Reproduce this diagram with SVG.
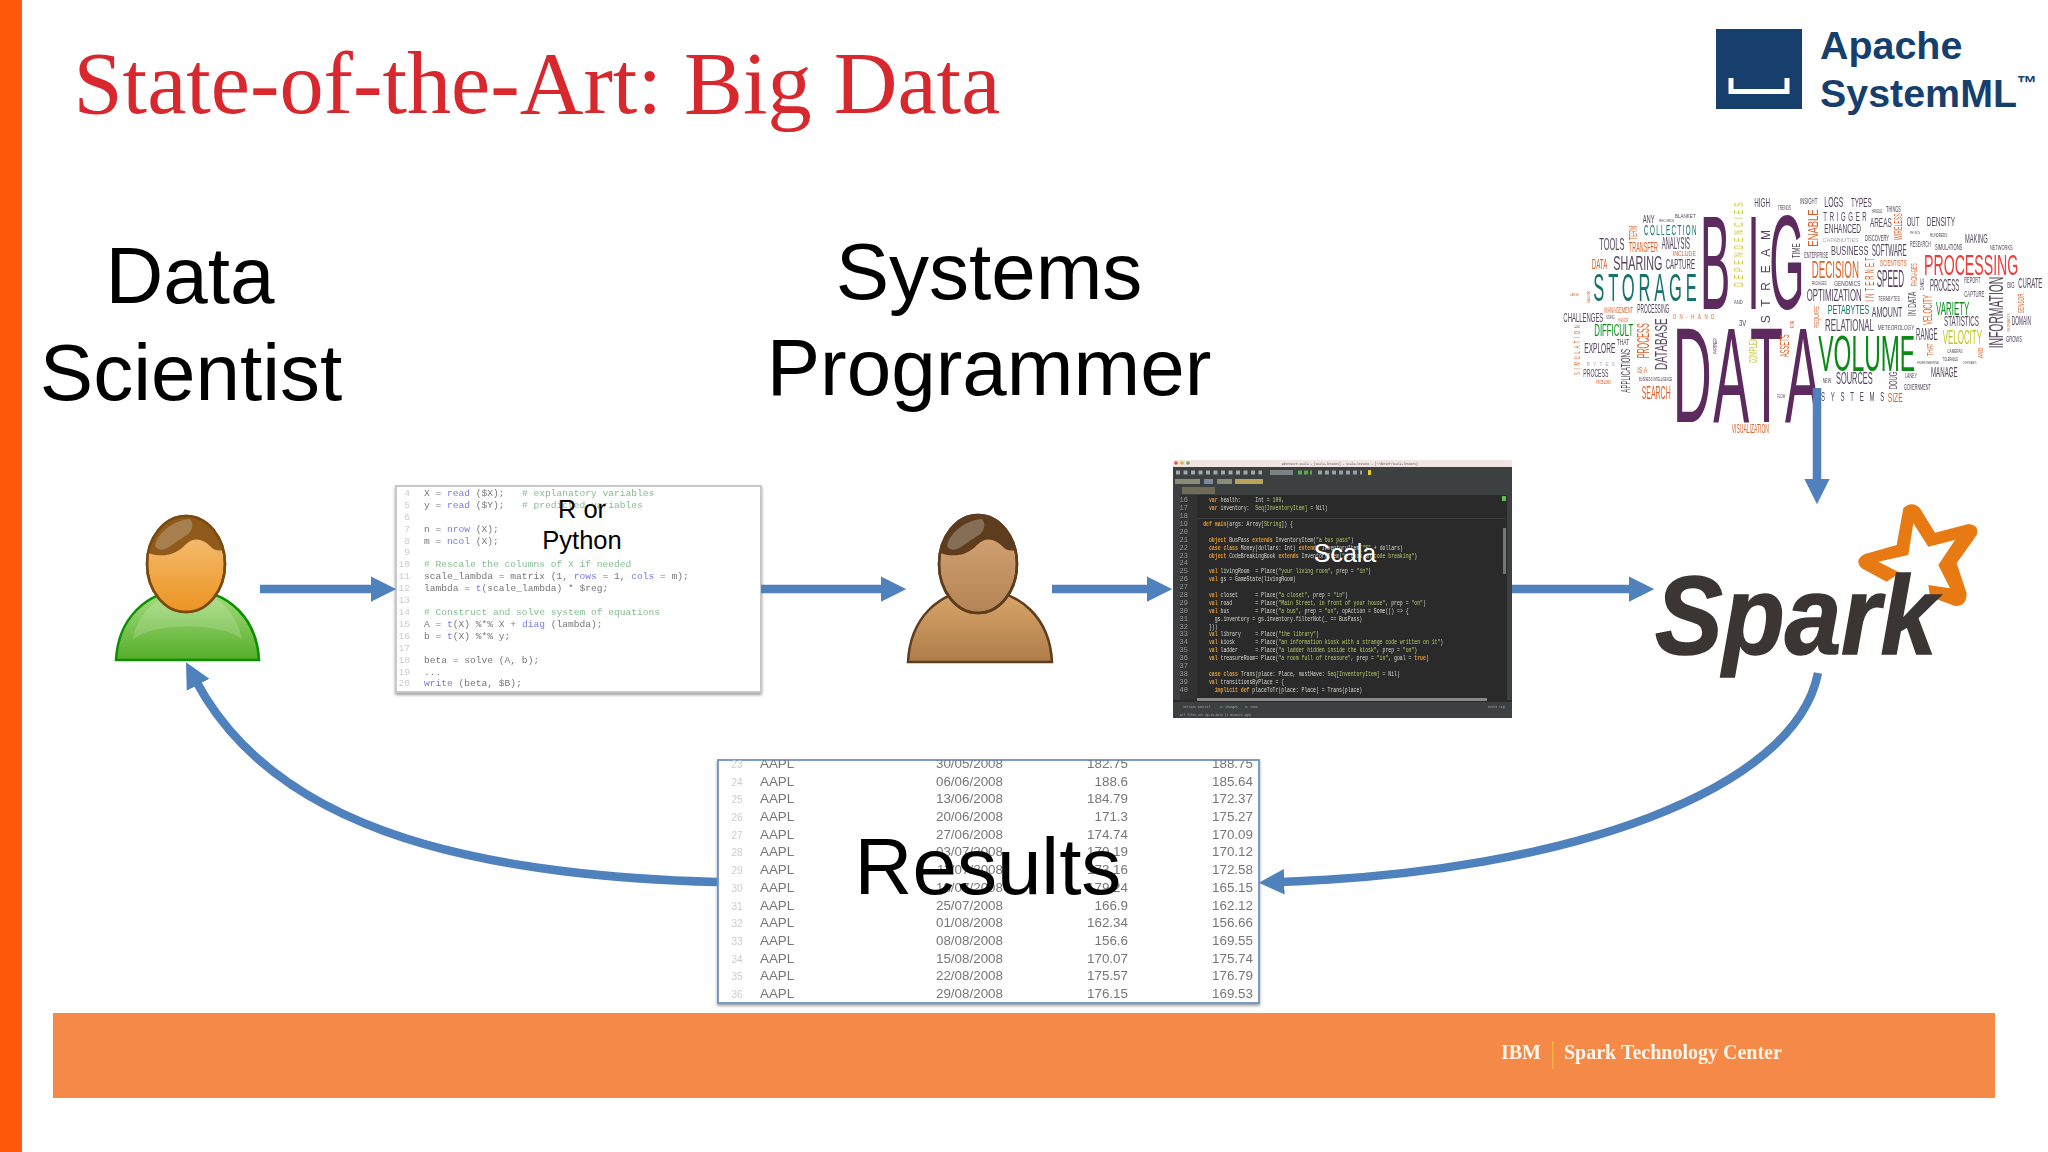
<svg xmlns="http://www.w3.org/2000/svg" width="2048" height="1152" viewBox="0 0 2048 1152">
<style>
text{font-family:"Liberation Sans",Arial,sans-serif}
.big{font-size:80px;text-anchor:middle;fill:#000}
.title{font-family:"Liberation Serif","Times New Roman",serif;font-size:88.300px;fill:#d9272e}
.flow{fill:none;stroke:#4f81bd;stroke-width:8.5;marker-end:url(#arrow)}
.mono,.mono text{font-family:"Liberation Mono","Courier New",monospace}
.code{font-size:9.6px;fill:#777;white-space:pre}
.cn{font-size:9.6px;fill:#ccc;text-anchor:end}
.k{fill:#7b7be8}.c{fill:#86bd92}
.sc{font-size:21px;fill:#d8d8cc;white-space:pre}
.sn{font-size:21px;fill:#999;text-anchor:end}
.o{fill:#e09a34;font-weight:bold}.s{fill:#b4cc68}
.st{font-size:9px;fill:#aaa}
.td{font-size:13.4px;fill:#777}
.r{text-anchor:end}
.ln{font-size:10px;fill:#ccc;text-anchor:middle}
.logo{font-weight:bold;font-size:39.400px;fill:#163f6e}
.foot{font-family:"Liberation Serif","Times New Roman",serif;font-weight:bold;font-size:20px;fill:#fff5ea}
.p{fill:#5b2a5e}.d{fill:#54445c}.t{fill:#14726a}.g{fill:#0a8a18}.re{fill:#ee3b3b}.or{fill:#d8622a}.y{fill:#c4c42a}.li{fill:#b3a6b3}
</style>
<defs>
<marker id="arrow" viewBox="0 0 3 3" refX="0.5" refY="1.5" markerWidth="3" markerHeight="3" orient="auto" markerUnits="strokeWidth"><path d="M0 0L3 1.5L0 3Z" fill="#4f81bd"/></marker>
<filter id="soft" x="-2%" y="-2%" width="104%" height="104%"><feGaussianBlur stdDeviation="0.45"/></filter>
<filter id="shadow" x="-5%" y="-5%" width="110%" height="110%"><feDropShadow dx="0" dy="2" stdDeviation="1.5" flood-color="#777" flood-opacity=".7"/></filter>
<linearGradient id="green" x1="0" y1="0" x2="0" y2="1"><stop offset="0" stop-color="#a9de80"/><stop offset="1" stop-color="#55ad2a"/></linearGradient>
<linearGradient id="tan" x1="0" y1="0" x2="0" y2="1"><stop offset="0" stop-color="#dba76c"/><stop offset="1" stop-color="#ad7c48"/></linearGradient>
<linearGradient id="skin" x1="0" y1="0" x2="0" y2="1"><stop offset="0" stop-color="#f6c585"/><stop offset="1" stop-color="#ec9420"/></linearGradient>
<linearGradient id="skin2" x1="0" y1="0" x2="0" y2="1"><stop offset="0" stop-color="#d8a878"/><stop offset="1" stop-color="#b58455"/></linearGradient>
<clipPath id="tclip"><rect x="718" y="760" width="541" height="243"/></clipPath>
<clipPath id="hclip"><ellipse cx="186" cy="564" rx="39" ry="48"/></clipPath>
<clipPath id="scclip"><rect x="1173" y="460" width="339" height="258"/></clipPath>
</defs>
<rect width="2048" height="1152" fill="#fff"/>
<rect id="side-band" x="0" y="0" width="22" height="1152" fill="#ff5a0a"/>
<text id="title" class="title" x="73.500" y="113">State-of-the-Art: Big Data</text>

<g id="apache-systemml-logo">
<rect x="1716" y="29" width="86" height="80" fill="#163f6e"/>
<path d="M1731 78v13.500h56V78" fill="none" stroke="#fff" stroke-width="5"/>
<text class="logo" x="1820" y="59">Apache</text>
<text class="logo" x="1820" y="107">SystemML</text>
<text class="logo" x="2017" y="90" style="font-size:20px">™</text>
</g>

<g id="data-scientist-label"><text class="big" x="190" y="303">Data</text><text class="big" x="191" y="400">Scientist</text></g>
<g id="systems-programmer-label"><text class="big" x="989" y="299">Systems</text><text class="big" x="989" y="395">Programmer</text></g>

<g id="big-data-cloud" transform="translate(1550,180) scale(.33333)" filter="url(#soft)">
<text class="p" transform="translate(0,388) scale(.34,1)" x="1324 1741 1935" y="0" font-size="400">BIG</text>
<text class="p" transform="translate(0,725) scale(.4,1)" x="920 1225 1500 1762" y="0" font-size="405">DATA</text>
<text class="g" x="805" y="572" font-size="150" textLength="290" lengthAdjust="spacingAndGlyphs">VOLUME</text>
<text class="t" transform="translate(130,362) scale(.42,1)" font-size="118" textLength="738">STORAGE</text>
<text class="re" x="1122" y="285" font-size="90" textLength="283" lengthAdjust="spacingAndGlyphs">PROCESSING</text>
<text class="or" x="785" y="295" font-size="72" textLength="142" lengthAdjust="spacingAndGlyphs">DECISION</text>
<text class="d" x="613" y="80" font-size="39" textLength="47" lengthAdjust="spacingAndGlyphs">HIGH</text>
<text class="d" x="683" y="90" font-size="20" textLength="40" lengthAdjust="spacingAndGlyphs">TRENDS</text>
<text class="d" x="750" y="72" font-size="28" textLength="52" lengthAdjust="spacingAndGlyphs">INSIGHT</text>
<text class="d" x="823" y="82" font-size="42" textLength="57" lengthAdjust="spacingAndGlyphs">LOGS</text>
<text class="d" x="903" y="80" font-size="38" textLength="62" lengthAdjust="spacingAndGlyphs">TYPES</text>
<text class="d" x="965" y="98" font-size="14" textLength="32" lengthAdjust="spacingAndGlyphs">HANDLE</text>
<text class="d" x="1008" y="95" font-size="26" textLength="45" lengthAdjust="spacingAndGlyphs">THINGS</text>
<text class="d" transform="translate(820,122) scale(.5,1)" font-size="36" textLength="260">TRIGGER</text>
<text class="d" x="823" y="160" font-size="36" textLength="110" lengthAdjust="spacingAndGlyphs">ENHANCED</text>
<text class="li" x="818" y="187" font-size="18" textLength="108" lengthAdjust="spacingAndGlyphs">CAPABILITIES</text>
<text class="d" x="960" y="142" font-size="38" textLength="65" lengthAdjust="spacingAndGlyphs">AREAS</text>
<text class="d" x="1070" y="137" font-size="38" textLength="38" lengthAdjust="spacingAndGlyphs">OUT</text>
<text class="d" x="1130" y="137" font-size="38" textLength="85" lengthAdjust="spacingAndGlyphs">DENSITY</text>
<text class="d" x="1080" y="163" font-size="12" textLength="30" lengthAdjust="spacingAndGlyphs">PHYSICS</text>
<text class="d" x="1140" y="170" font-size="18" textLength="52" lengthAdjust="spacingAndGlyphs">HUNDREDS</text>
<text class="d" x="945" y="183" font-size="28" textLength="72" lengthAdjust="spacingAndGlyphs">DISCOVERY</text>
<text class="d" x="1080" y="200" font-size="26" textLength="62" lengthAdjust="spacingAndGlyphs">RESEARCH</text>
<text class="d" x="1155" y="210" font-size="28" textLength="82" lengthAdjust="spacingAndGlyphs">SIMULATIONS</text>
<text class="d" x="1245" y="190" font-size="38" textLength="68" lengthAdjust="spacingAndGlyphs">MAKING</text>
<text class="d" x="1320" y="210" font-size="24" textLength="68" lengthAdjust="spacingAndGlyphs">NETWORKS</text>
<text class="d" x="843" y="225" font-size="40" textLength="112" lengthAdjust="spacingAndGlyphs">BUSINESS</text>
<text class="d" x="965" y="228" font-size="48" textLength="105" lengthAdjust="spacingAndGlyphs">SOFTWARE</text>
<text class="d" x="763" y="235" font-size="26" textLength="72" lengthAdjust="spacingAndGlyphs">ENTERPRISE</text>
<text class="or" x="990" y="258" font-size="28" textLength="80" lengthAdjust="spacingAndGlyphs">SCIENTISTS</text>
<text class="d" x="785" y="315" font-size="14" textLength="45" lengthAdjust="spacingAndGlyphs">PACKAGES</text>
<text class="d" x="853" y="318" font-size="22" textLength="78" lengthAdjust="spacingAndGlyphs">GENOMICS</text>
<text class="d" x="980" y="320" font-size="70" textLength="82" lengthAdjust="spacingAndGlyphs">SPEED</text>
<text class="d" x="1140" y="333" font-size="48" textLength="88" lengthAdjust="spacingAndGlyphs">PROCESS</text>
<text class="d" x="1243" y="310" font-size="26" textLength="48" lengthAdjust="spacingAndGlyphs">REPORT</text>
<text class="d" x="1372" y="325" font-size="28" textLength="22" lengthAdjust="spacingAndGlyphs">BIG</text>
<text class="d" x="1405" y="325" font-size="42" textLength="72" lengthAdjust="spacingAndGlyphs">CURATE</text>
<text class="d" x="770" y="362" font-size="50" textLength="165" lengthAdjust="spacingAndGlyphs">OPTIMIZATION</text>
<text class="d" x="985" y="362" font-size="24" textLength="65" lengthAdjust="spacingAndGlyphs">TERABYTES</text>
<text class="d" x="1243" y="350" font-size="28" textLength="60" lengthAdjust="spacingAndGlyphs">CAPTURE</text>
<text class="t" x="833" y="403" font-size="38" textLength="125" lengthAdjust="spacingAndGlyphs">PETABYTES</text>
<text class="d" x="965" y="410" font-size="42" textLength="92" lengthAdjust="spacingAndGlyphs">AMOUNT</text>
<text class="g" x="1158" y="405" font-size="56" textLength="100" lengthAdjust="spacingAndGlyphs">VARIETY</text>
<text class="d" x="1182" y="438" font-size="42" textLength="105" lengthAdjust="spacingAndGlyphs">STATISTICS</text>
<text class="d" x="1385" y="435" font-size="36" textLength="58" lengthAdjust="spacingAndGlyphs">DOMAIN</text>
<text class="d" x="825" y="452" font-size="52" textLength="147" lengthAdjust="spacingAndGlyphs">RELATIONAL</text>
<text class="d" x="983" y="450" font-size="22" textLength="110" lengthAdjust="spacingAndGlyphs">METEOROLOGY</text>
<text class="d" x="1098" y="480" font-size="50" textLength="65" lengthAdjust="spacingAndGlyphs">RANGE</text>
<text class="y" x="1178" y="492" font-size="62" textLength="118" lengthAdjust="spacingAndGlyphs">VELOCITY</text>
<text class="d" x="1368" y="487" font-size="26" textLength="48" lengthAdjust="spacingAndGlyphs">GROWS</text>
<text class="d" x="1192" y="518" font-size="18" textLength="46" lengthAdjust="spacingAndGlyphs">CAMERAS</text>
<text class="d" x="1178" y="542" font-size="14" textLength="46" lengthAdjust="spacingAndGlyphs">TOLERABLE</text>
<text class="d" x="1102" y="552" font-size="12" textLength="66" lengthAdjust="spacingAndGlyphs">ENVIRONMENTAL</text>
<text class="d" x="1238" y="552" font-size="12" textLength="42" lengthAdjust="spacingAndGlyphs">CONSTRAINTS</text>
<text class="d" x="1143" y="590" font-size="46" textLength="80" lengthAdjust="spacingAndGlyphs">MANAGE</text>
<text class="d" x="858" y="612" font-size="50" textLength="110" lengthAdjust="spacingAndGlyphs">SOURCES</text>
<text class="d" x="1065" y="595" font-size="20" textLength="36" lengthAdjust="spacingAndGlyphs">LANEY</text>
<text class="d" x="1062" y="630" font-size="26" textLength="80" lengthAdjust="spacingAndGlyphs">GOVERNMENT</text>
<text class="d" x="818" y="610" font-size="20" textLength="26" lengthAdjust="spacingAndGlyphs">NEW</text>
<text class="d" transform="translate(813,662) scale(.5,1)" font-size="36" textLength="380">SYSTEMS</text>
<text class="or" x="1013" y="665" font-size="36" textLength="45" lengthAdjust="spacingAndGlyphs">SIZE</text>
<text class="or" x="545" y="760" font-size="38" textLength="112" lengthAdjust="spacingAndGlyphs">VISUALIZATION</text>
<text class="d" x="682" y="655" font-size="14" textLength="24" lengthAdjust="spacingAndGlyphs">FLOW</text>
<text class="d" x="278" y="130" font-size="34" textLength="36" lengthAdjust="spacingAndGlyphs">ANY</text>
<text class="d" x="328" y="127" font-size="12" textLength="45" lengthAdjust="spacingAndGlyphs">RECORDS</text>
<text class="d" x="375" y="113" font-size="18" textLength="62" lengthAdjust="spacingAndGlyphs">BLANKET</text>
<text class="t" transform="translate(282,165) scale(.45,1)" font-size="42" textLength="351">COLLECTION</text>
<text class="d" x="148" y="210" font-size="50" textLength="75" lengthAdjust="spacingAndGlyphs">TOOLS</text>
<text class="or" x="237" y="215" font-size="42" textLength="87" lengthAdjust="spacingAndGlyphs">TRANSFER</text>
<text class="d" x="335" y="208" font-size="50" textLength="85" lengthAdjust="spacingAndGlyphs">ANALYSIS</text>
<text class="or" x="368" y="228" font-size="20" textLength="70" lengthAdjust="spacingAndGlyphs">INCLUDE</text>
<text class="or" x="125" y="268" font-size="44" textLength="47" lengthAdjust="spacingAndGlyphs">DATA</text>
<text class="d" x="190" y="270" font-size="62" textLength="147" lengthAdjust="spacingAndGlyphs">SHARING</text>
<text class="d" x="347" y="268" font-size="42" textLength="88" lengthAdjust="spacingAndGlyphs">CAPTURE</text>
<text class="d" x="262" y="400" font-size="36" textLength="96" lengthAdjust="spacingAndGlyphs">PROCESSING</text>
<text class="or" x="163" y="398" font-size="28" textLength="86" lengthAdjust="spacingAndGlyphs">MANAGEMENT</text>
<text class="d" x="40" y="425" font-size="38" textLength="120" lengthAdjust="spacingAndGlyphs">CHALLENGES</text>
<text class="d" x="168" y="418" font-size="14" textLength="26" lengthAdjust="spacingAndGlyphs">USING</text>
<text class="or" x="205" y="425" font-size="14" textLength="30" lengthAdjust="spacingAndGlyphs">HADOOP</text>
<text class="g" x="133" y="468" font-size="50" textLength="117" lengthAdjust="spacingAndGlyphs">DIFFICULT</text>
<text class="d" x="103" y="518" font-size="42" textLength="93" lengthAdjust="spacingAndGlyphs">EXPLORE</text>
<text class="d" x="200" y="495" font-size="26" textLength="38" lengthAdjust="spacingAndGlyphs">THAT</text>
<text class="or" transform="translate(368,418) scale(.6,1)" font-size="22" textLength="208">ON-HAND</text>
<text class="li" x="110" y="558" font-size="14" textLength="85">BYTES</text>
<text class="d" x="100" y="590" font-size="32" textLength="75" lengthAdjust="spacingAndGlyphs">PROCESS</text>
<text class="or" x="138" y="612" font-size="14" textLength="45" lengthAdjust="spacingAndGlyphs">PROBLEMS</text>
<text class="d" x="267" y="602" font-size="16" textLength="100" lengthAdjust="spacingAndGlyphs">BUSINESS INTELLIGENCE</text>
<text class="or" x="262" y="578" font-size="28" textLength="30" lengthAdjust="spacingAndGlyphs">IS A</text>
<text class="or" x="275" y="658" font-size="54" textLength="87" lengthAdjust="spacingAndGlyphs">SEARCH</text>
<text class="d" x="567" y="437" font-size="28" textLength="22" lengthAdjust="spacingAndGlyphs">3V</text>
<text class="d" x="552" y="372" font-size="18" textLength="26" lengthAdjust="spacingAndGlyphs">AND</text>
<text class="or" x="60" y="348" font-size="10" textLength="26" lengthAdjust="spacingAndGlyphs">LARGE</text>
<text class="y" transform="translate(578,320) rotate(-90) scale(.5,1)" font-size="36" textLength="504">DEPENDENCIES</text>
<text class="or" transform="translate(262,180) rotate(-90)" font-size="32" textLength="42" lengthAdjust="spacingAndGlyphs">TERM</text>
<text class="or" transform="translate(803,200) rotate(-90)" font-size="42" textLength="112" lengthAdjust="spacingAndGlyphs">ENABLE</text>
<text class="d" transform="translate(660,430) rotate(-90)" font-size="36" textLength="280">STREAM</text>
<text class="d" transform="translate(750,235) rotate(-90)" font-size="32" textLength="45" lengthAdjust="spacingAndGlyphs">TIME</text>
<text class="or" transform="translate(1055,180) rotate(-90)" font-size="30" textLength="80" lengthAdjust="spacingAndGlyphs">WIRELESS</text>
<text class="or" transform="translate(972,365) rotate(-90) scale(.5,1)" font-size="36" textLength="266">INTERNET</text>
<text class="or" transform="translate(1100,318) rotate(-90)" font-size="28" textLength="68" lengthAdjust="spacingAndGlyphs">PACKAGES</text>
<text class="d" transform="translate(1097,408) rotate(-90)" font-size="34" textLength="73" lengthAdjust="spacingAndGlyphs">IN DATA</text>
<text class="or" transform="translate(1145,435) rotate(-90)" font-size="36" textLength="90" lengthAdjust="spacingAndGlyphs">VELOCITY</text>
<text class="d" transform="translate(1122,330) rotate(-90)" font-size="14" textLength="35" lengthAdjust="spacingAndGlyphs">DANCE</text>
<text class="or" transform="translate(1422,400) rotate(-90)" font-size="26" textLength="60" lengthAdjust="spacingAndGlyphs">SENSOR</text>
<text class="d" transform="translate(1360,505) rotate(-90)" font-size="62" textLength="215" lengthAdjust="spacingAndGlyphs">INFORMATION</text>
<text class="or" transform="translate(808,445) rotate(-90)" font-size="24" textLength="67" lengthAdjust="spacingAndGlyphs">REQUIRE</text>
<text class="or" transform="translate(1380,455) rotate(-90)" font-size="12" textLength="55" lengthAdjust="spacingAndGlyphs">INFORMATICS</text>
<text class="or" transform="translate(733,445) rotate(-90)" font-size="16" textLength="23" lengthAdjust="spacingAndGlyphs">FOR</text>
<text class="or" transform="translate(717,532) rotate(-90)" font-size="40" textLength="69" lengthAdjust="spacingAndGlyphs">ASSETS</text>
<text class="y" transform="translate(620,550) rotate(-90)" font-size="32" textLength="75" lengthAdjust="spacingAndGlyphs">COMPLEX</text>
<text class="d" transform="translate(500,522) rotate(-90)" font-size="16" textLength="47" lengthAdjust="spacingAndGlyphs">PARTNER</text>
<text class="d" transform="translate(352,570) rotate(-90)" font-size="50" textLength="155" lengthAdjust="spacingAndGlyphs">DATABASE</text>
<text class="or" transform="translate(298,535) rotate(-90)" font-size="50" textLength="105" lengthAdjust="spacingAndGlyphs">PROCESS</text>
<text class="d" transform="translate(240,638) rotate(-90)" font-size="40" textLength="131" lengthAdjust="spacingAndGlyphs">APPLICATIONS</text>
<text class="or" transform="translate(90,585) rotate(-90) scale(.5,1)" font-size="26" textLength="300">SIMULATION</text>
<text class="d" transform="translate(1040,628) rotate(-90)" font-size="30" textLength="53" lengthAdjust="spacingAndGlyphs">DOUG</text>
<text class="or" transform="translate(1150,528) rotate(-90)" font-size="26" textLength="38" lengthAdjust="spacingAndGlyphs">THAT</text>
<text class="or" transform="translate(1300,535) rotate(-90)" font-size="24" textLength="32" lengthAdjust="spacingAndGlyphs">AND</text>
<text class="or" transform="translate(120,370) rotate(-90)" font-size="10" textLength="35" lengthAdjust="spacingAndGlyphs">SAXON</text>
</g>

<g id="data-scientist">
<path d="M116 660C118 620 145 590 187 590C230 590 257 620 259 660Z" fill="url(#green)" stroke="#0a9000" stroke-width="2.500"/>
<path d="M133 640C136 618 150 604 165 597C178 612 200 612 212 597C226 604 238 618 242 640C225 622 150 622 133 640Z" fill="#fff" opacity=".16"/>
<ellipse cx="186" cy="564" rx="39" ry="48" fill="url(#skin)" stroke="#7a4a10" stroke-width="2.500"/>
<g clip-path="url(#hclip)"><path d="M146 552C160 558 175 556 185 545C195 535 205 540 212 548C216 551 221 551 225 550L225 510L146 510Z" fill="#8f5a1c"/><path d="M155 545C160 530 175 520 190 519C195 525 191 532 187 535C178 540 172 546 165 549C160 551 156 549 155 545Z" fill="#fff" opacity=".22"/></g>
<ellipse cx="186" cy="564" rx="39" ry="48" fill="none" stroke="#7a4a10" stroke-width="2.500"/>
</g>
<g id="systems-programmer" transform="translate(792,0)">
<path d="M116 662C118 620 145 590 187 590C230 590 258 620 260 662Z" fill="url(#tan)" stroke="#5d3d1f" stroke-width="2.500"/>
<ellipse cx="186" cy="564" rx="39" ry="49" fill="url(#skin2)" stroke="#5d3d1f" stroke-width="2.500"/>
<g clip-path="url(#hclip)"><path d="M146 552C160 558 175 556 185 545C195 535 205 540 212 548C216 551 221 551 225 550L225 510L146 510Z" fill="#5e3c1e"/><path d="M155 545C160 530 175 520 190 519C195 525 191 532 187 535C178 540 172 546 165 549C160 551 156 549 155 545Z" fill="#fff" opacity=".25"/></g>
<ellipse cx="186" cy="564" rx="39" ry="49" fill="none" stroke="#5d3d1f" stroke-width="2.500"/>
</g>

<g id="r-or-python">
<rect x="396" y="486" width="365" height="206" fill="#fff" stroke="#c8c8c8" stroke-width="2" filter="url(#shadow)"/>
<g class="mono" filter="url(#soft)">
<text class="cn" x="410" y="496">4</text><text class="code" x="424" y="496">X = <tspan class="k">read</tspan> ($X);   <tspan class="c"># explanatory variables</tspan></text>
<text class="cn" x="410" y="508">5</text><text class="code" x="424" y="508">y = <tspan class="k">read</tspan> ($Y);   <tspan class="c"># predicted variables</tspan></text>
<text class="cn" x="410" y="520">6</text>
<text class="cn" x="410" y="532">7</text><text class="code" x="424" y="532">n = <tspan class="k">nrow</tspan> (X);</text>
<text class="cn" x="410" y="544">8</text><text class="code" x="424" y="544">m = <tspan class="k">ncol</tspan> (X);</text>
<text class="cn" x="410" y="555">9</text>
<text class="cn" x="410" y="567">10</text><text class="code c" x="424" y="567"># Rescale the columns of X if needed</text>
<text class="cn" x="410" y="579">11</text><text class="code" x="424" y="579">scale_lambda = matrix (1, <tspan class="k">rows</tspan> = 1, <tspan class="k">cols</tspan> = m);</text>
<text class="cn" x="410" y="591">12</text><text class="code" x="424" y="591">lambda = <tspan class="k">t</tspan>(scale_lambda) * $reg;</text>
<text class="cn" x="410" y="603">13</text>
<text class="cn" x="410" y="615">14</text><text class="code c" x="424" y="615"># Construct and solve system of equations</text>
<text class="cn" x="410" y="627">15</text><text class="code" x="424" y="627">A = <tspan class="k">t</tspan>(X) %*% X + <tspan class="k">diag</tspan> (lambda);</text>
<text class="cn" x="410" y="639">16</text><text class="code" x="424" y="639">b = <tspan class="k">t</tspan>(X) %*% y;</text>
<text class="cn" x="410" y="651">17</text>
<text class="cn" x="410" y="663">18</text><text class="code" x="424" y="663">beta = solve (A, b);</text>
<text class="cn" x="410" y="675">19</text><text class="code" x="424" y="675">...</text>
<text class="cn" x="410" y="686">20</text><text class="code" x="424" y="686"><tspan class="k">write</tspan> (beta, $B);</text>
</g>
<text x="582" y="518" font-size="25.500" text-anchor="middle">R or</text>
<text x="582" y="549" font-size="25.500" text-anchor="middle">Python</text>
</g>

<g id="scala">
<g clip-path="url(#scclip)" filter="url(#soft)">
<rect x="1173" y="460" width="339" height="258" fill="#2a2b2b"/>
<rect x="1173" y="460" width="339" height="7" fill="#f3e4e4"/>
<circle cx="1176" cy="463" r="1.800" fill="#e0504a"/><circle cx="1182" cy="463" r="1.800" fill="#e0b040"/><circle cx="1188" cy="463" r="1.800" fill="#60b050"/>
<rect x="1173" y="467" width="339" height="28" fill="#3c3f41"/>
<path d="M1176 472.500H1262" stroke="#a0a8ac" stroke-width="4" stroke-dasharray="4 3.500"/>
<rect x="1270" y="470" width="23" height="5" fill="#7d8285"/>
<path d="M1298 472.500H1312" stroke="#5ca84c" stroke-width="4" stroke-dasharray="4 2"/>
<path d="M1318 472.500H1362" stroke="#9aa0a4" stroke-width="4" stroke-dasharray="4 3"/>
<rect x="1368" y="470" width="3" height="5" fill="#e8c838"/>
<rect x="1175" y="479" width="25" height="5" fill="#8a8c78"/><rect x="1204" y="479" width="9" height="5" fill="#7a8a98"/><rect x="1217" y="479" width="15" height="5" fill="#8a8c78"/><rect x="1235" y="479" width="28" height="5" fill="#b8a458"/>
<rect x="1182" y="487" width="33" height="7" fill="#6f6a58"/>
<rect x="1173" y="495" width="7" height="205" fill="#3c3f41"/>
<rect x="1507" y="495" width="5" height="205" fill="#3c3f41"/>
<rect x="1180" y="495" width="17" height="205" fill="#303233"/>
<rect x="1197" y="518" width="308" height="1" fill="#3a3a3a"/>
<rect x="1197" y="698" width="290" height="3" fill="#8a8a8a"/>
<rect x="1503" y="528" width="3" height="46" fill="#777"/>
<rect x="1502" y="496" width="4" height="5" fill="#59c34c"/>
<rect x="1173" y="702" width="339" height="16" fill="#3c3f41"/>
<g class="mono" transform="translate(1160,450) scale(.33333)">
<text class="st" x="365" y="44" style="fill:#555">Adventure.scala - [scala-lessons] - scala-lessons - [~/dbrief/scala-lessons]</text>
<text class="st" x="70" y="773">Version Control</text><text class="st" x="180" y="773">9: Changes</text><text class="st" x="255" y="773">6: TODO</text><text class="st" x="985" y="773">Event Log</text><text class="st" x="60" y="797">All files are up-to-date (4 minutes ago)</text>
<text class="sn" x="84" y="157">16</text><text class="sn" x="84" y="181">17</text><text class="sn" x="84" y="204">18</text><text class="sn" x="84" y="228">19</text><text class="sn" x="84" y="252">20</text><text class="sn" x="84" y="275">21</text><text class="sn" x="84" y="299">22</text><text class="sn" x="84" y="323">23</text><text class="sn" x="84" y="346">24</text><text class="sn" x="84" y="370">25</text><text class="sn" x="84" y="394">26</text><text class="sn" x="84" y="417">27</text><text class="sn" x="84" y="441">28</text><text class="sn" x="84" y="465">29</text><text class="sn" x="84" y="488">30</text><text class="sn" x="84" y="512">31</text><text class="sn" x="84" y="536">32</text><text class="sn" x="84" y="559">33</text><text class="sn" x="84" y="583">34</text><text class="sn" x="84" y="607">35</text><text class="sn" x="84" y="630">36</text><text class="sn" x="84" y="654">37</text><text class="sn" x="84" y="678">38</text><text class="sn" x="84" y="701">39</text><text class="sn" x="84" y="725">40</text>
<g transform="scale(.69,1)">
<text class="sc" x="213" y="157"><tspan class="o">var</tspan> health:     Int = <tspan class="s">100</tspan>,</text>
<text class="sc" x="213" y="181"><tspan class="o">var</tspan> inventory:  <tspan class="s">Seq[InventoryItem]</tspan> = Nil)</text>
<text class="sc" x="188" y="228"><tspan class="o">def main</tspan>(args: Array[<tspan class="s">String</tspan>]) {</text>
<text class="sc" x="213" y="275"><tspan class="o">object</tspan> BusPass <tspan class="o">extends</tspan> InventoryItem(<tspan class="s">"a bus pass"</tspan>)</text>
<text class="sc" x="213" y="299"><tspan class="o">case class</tspan> Money(dollars: Int) <tspan class="o">extends</tspan> InventoryItem(<tspan class="s">"$"</tspan> + dollars)</text>
<text class="sc" x="213" y="323"><tspan class="o">object</tspan> CodeBreakingBook <tspan class="o">extends</tspan> InventoryItem(<tspan class="s">"a book on code breaking"</tspan>)</text>
<text class="sc" x="213" y="370"><tspan class="o">val</tspan> livingRoom  = Place(<tspan class="s">"your living room"</tspan>, prep = <tspan class="s">"in"</tspan>)</text>
<text class="sc" x="213" y="394"><tspan class="o">val</tspan> gs = GameState(livingRoom)</text>
<text class="sc" x="213" y="441"><tspan class="o">val</tspan> closet      = Place(<tspan class="s">"a closet"</tspan>, prep = <tspan class="s">"in"</tspan>)</text>
<text class="sc" x="213" y="465"><tspan class="o">val</tspan> road        = Place(<tspan class="s">"Main Street, in front of your house"</tspan>, prep = <tspan class="s">"on"</tspan>)</text>
<text class="sc" x="213" y="488"><tspan class="o">val</tspan> bus         = Place(<tspan class="s">"a bus"</tspan>, prep = <tspan class="s">"on"</tspan>, opAction = Some(() =&gt; {</text>
<text class="sc" x="238" y="512">gs.inventory = gs.inventory.filterNot(_ == BusPass)</text>
<text class="sc" x="213" y="536">}))</text>
<text class="sc" x="213" y="559"><tspan class="o">val</tspan> library     = Place(<tspan class="s">"the library"</tspan>)</text>
<text class="sc" x="213" y="583"><tspan class="o">val</tspan> kiosk       = Place(<tspan class="s">"an information kiosk with a strange code written on it"</tspan>)</text>
<text class="sc" x="213" y="607"><tspan class="o">val</tspan> ladder      = Place(<tspan class="s">"a ladder hidden inside the kiosk"</tspan>, prep = <tspan class="s">"on"</tspan>)</text>
<text class="sc" x="213" y="630"><tspan class="o">val</tspan> treasureRoom= Place(<tspan class="s">"a room full of treasure"</tspan>, prep = <tspan class="s">"in"</tspan>, goal = <tspan class="o">true</tspan>)</text>
<text class="sc" x="213" y="678"><tspan class="o">case class</tspan> Trans(place: Place, mustHave: <tspan class="s">Seq[InventoryItem]</tspan> = Nil)</text>
<text class="sc" x="213" y="701"><tspan class="o">val</tspan> transitionsByPlace = {</text>
<text class="sc" x="238" y="725"><tspan class="o">implicit def</tspan> placeToTr(place: Place) = Trans(place)</text>
</g>
</g>
</g>
<text x="1345" y="562" font-size="25" text-anchor="middle" fill="#fff">Scala</text>
</g>

<g id="spark">
<path transform="translate(1620,480) scale(.33333)" fill="#e87a14" d="M850 85Q875 60 900 85L945 158L1045 132Q1080 135 1070 165L1010 250L1040 340Q1040 380 1005 378L930 350L925 315L990 325L955 255L1005 180L925 200L880 130L865 225L775 245L840 278L800 305L725 265Q700 240 735 222L830 195Z"/>
<text x="1655" y="654" font-size="112" font-weight="bold" font-style="italic" fill="#3b3533" stroke="#3b3533" stroke-width="1.500" textLength="282" lengthAdjust="spacingAndGlyphs">Spark</text>
</g>

<g id="results">
<rect x="718" y="760" width="541" height="243" fill="#fff" stroke="#6f93c4" stroke-width="1.800" filter="url(#shadow)"/>
<g clip-path="url(#tclip)" filter="url(#soft)">
<text class="ln" x="737" y="768">23</text><text class="td" x="760" y="768">AAPL</text><text class="td r" x="1003" y="768">30/05/2008</text><text class="td r" x="1128" y="768">182.75</text><text class="td r" x="1253" y="768">188.75</text>
<text class="ln" x="737" y="786">24</text><text class="td" x="760" y="786">AAPL</text><text class="td r" x="1003" y="786">06/06/2008</text><text class="td r" x="1128" y="786">188.6</text><text class="td r" x="1253" y="786">185.64</text>
<text class="ln" x="737" y="803">25</text><text class="td" x="760" y="803">AAPL</text><text class="td r" x="1003" y="803">13/06/2008</text><text class="td r" x="1128" y="803">184.79</text><text class="td r" x="1253" y="803">172.37</text>
<text class="ln" x="737" y="821">26</text><text class="td" x="760" y="821">AAPL</text><text class="td r" x="1003" y="821">20/06/2008</text><text class="td r" x="1128" y="821">171.3</text><text class="td r" x="1253" y="821">175.27</text>
<text class="ln" x="737" y="839">27</text><text class="td" x="760" y="839">AAPL</text><text class="td r" x="1003" y="839">27/06/2008</text><text class="td r" x="1128" y="839">174.74</text><text class="td r" x="1253" y="839">170.09</text>
<text class="ln" x="737" y="856">28</text><text class="td" x="760" y="856">AAPL</text><text class="td r" x="1003" y="856">03/07/2008</text><text class="td r" x="1128" y="856">170.19</text><text class="td r" x="1253" y="856">170.12</text>
<text class="ln" x="737" y="874">29</text><text class="td" x="760" y="874">AAPL</text><text class="td r" x="1003" y="874">11/07/2008</text><text class="td r" x="1128" y="874">173.16</text><text class="td r" x="1253" y="874">172.58</text>
<text class="ln" x="737" y="892">30</text><text class="td" x="760" y="892">AAPL</text><text class="td r" x="1003" y="892">18/07/2008</text><text class="td r" x="1128" y="892">179.24</text><text class="td r" x="1253" y="892">165.15</text>
<text class="ln" x="737" y="910">31</text><text class="td" x="760" y="910">AAPL</text><text class="td r" x="1003" y="910">25/07/2008</text><text class="td r" x="1128" y="910">166.9</text><text class="td r" x="1253" y="910">162.12</text>
<text class="ln" x="737" y="927">32</text><text class="td" x="760" y="927">AAPL</text><text class="td r" x="1003" y="927">01/08/2008</text><text class="td r" x="1128" y="927">162.34</text><text class="td r" x="1253" y="927">156.66</text>
<text class="ln" x="737" y="945">33</text><text class="td" x="760" y="945">AAPL</text><text class="td r" x="1003" y="945">08/08/2008</text><text class="td r" x="1128" y="945">156.6</text><text class="td r" x="1253" y="945">169.55</text>
<text class="ln" x="737" y="963">34</text><text class="td" x="760" y="963">AAPL</text><text class="td r" x="1003" y="963">15/08/2008</text><text class="td r" x="1128" y="963">170.07</text><text class="td r" x="1253" y="963">175.74</text>
<text class="ln" x="737" y="980">35</text><text class="td" x="760" y="980">AAPL</text><text class="td r" x="1003" y="980">22/08/2008</text><text class="td r" x="1128" y="980">175.57</text><text class="td r" x="1253" y="980">176.79</text>
<text class="ln" x="737" y="998">36</text><text class="td" x="760" y="998">AAPL</text><text class="td r" x="1003" y="998">29/08/2008</text><text class="td r" x="1128" y="998">176.15</text><text class="td r" x="1253" y="998">169.53</text>
</g>
<text class="big" x="988" y="894">Results</text>
</g>

<g id="connectors">
<path class="flow" d="M260 589H375"/>
<path class="flow" d="M761 589H885"/>
<path class="flow" d="M1052 589H1151"/>
<path class="flow" d="M1512 589H1633"/>
<path class="flow" d="M1817 388V483"/>
<path class="flow" d="M1818 673C1795 790 1570 872 1280 882"/>
<path class="flow" d="M717 882C450 875 270 820 196 681"/>
</g>

<g id="footer">
<rect x="53" y="1013" width="1942" height="85" fill="#f58a48"/>
<text class="foot" x="1501" y="1059">IBM</text>
<rect x="1552" y="1041" width="1.500" height="28" fill="#f5b040"/>
<text class="foot" x="1564" y="1059">Spark Technology Center</text>
</g>
</svg>
